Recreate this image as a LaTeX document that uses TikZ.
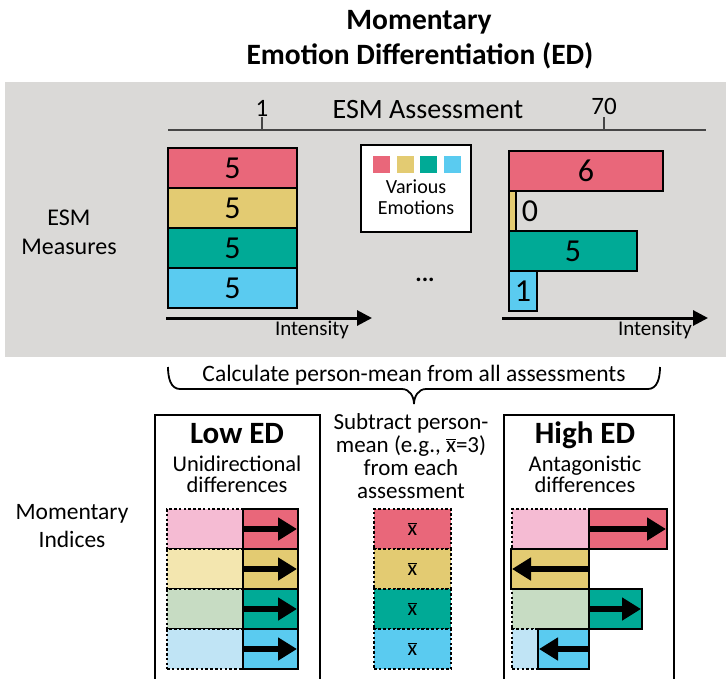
\documentclass[tikz,border=0pt]{standalone}
\usepackage{fontspec}
\setmainfont{Carlito}
\usetikzlibrary{arrows.meta}

\definecolor{panel}{RGB}{218,217,215}
\definecolor{axisgray}{RGB}{70,70,70}
\definecolor{emred}{RGB}{233,103,122}
\definecolor{emyel}{RGB}{227,203,114}
\definecolor{emteal}{RGB}{0,170,150}
\definecolor{emblue}{RGB}{90,203,240}
\definecolor{palered}{RGB}{245,187,211}
\definecolor{paleyel}{RGB}{243,230,175}
\definecolor{palegrn}{RGB}{199,220,195}
\definecolor{paleblu}{RGB}{192,228,245}

\newcommand\fsz[2]{\fontsize{#1}{#2}\selectfont}
\newcommand\xbar{\ensuremath{\overline{\hbox{x}}}}

\begin{document}
\begin{tikzpicture}[x=1pt,y=-1pt,
  every node/.style={inner sep=0pt, outer sep=0pt},
  txt/.style={anchor=base, align=center},
  bar/.style={draw=black, line width=2.6pt, minimum height=40pt, font=\fsz{32}{36}},
  ghost/.style={draw=black, line width=2.6pt, dash pattern=on 2.6pt off 2.2pt,
                minimum height=40pt, minimum width=77pt},
  swatch/.style={minimum width=17pt, minimum height=17pt},
  fatarrow/.style={-{Triangle[length=19pt,width=22pt]}, line width=6.5pt},
  intarrow/.style={-{Triangle[length=15pt,width=15pt]}, line width=3pt},
  frame/.style={draw=black, line width=2.6pt},
  tline/.style={draw=axisgray, line width=1.3pt}
]
\useasboundingbox (0,0) rectangle (726,678);
\clip (0,0) rectangle (726,678);

% heading
\node[txt, font=\fsz{29.5}{34}\bfseries] (title1) at (419,29) {Momentary};
\node[txt, font=\fsz{29.5}{34}\bfseries] (title2) at (420,64) {Emotion Differentiation (ED)};

% grey panel with the ESM measures
\fill[panel] (5,82) rectangle (726,357);

% assessment time line
\coordinate (tl0) at (168,130);
\coordinate (tl1) at (706,130);
\draw[tline] (tl0) -- (tl1);
\draw[tline] (262,130) -- (262,117);
\draw[tline] (604,130) -- (604,117);
\node[txt, font=\fsz{25}{29}] (t1) at (262,116) {1};
\node[txt, font=\fsz{25}{29}] (t70) at (604,114) {70};
\node[txt, font=\fsz{28}{32}] (esmlab) at (428,118) {ESM Assessment};

\node[txt, font=\fsz{24}{28}] (meas1) at (69,225) {ESM};
\node[txt, font=\fsz{24}{28}] (meas2) at (69,254) {Measures};

% first assessment: equal intensities
\node[bar, fill=emred,  minimum width=129pt] (a1) at (232.5,168) {5};
\node[bar, fill=emyel,  minimum width=129pt] (a2) at (232.5,208) {5};
\node[bar, fill=emteal, minimum width=129pt] (a3) at (232.5,248) {5};
\node[bar, fill=emblue, minimum width=129pt] (a4) at (232.5,288) {5};
\coordinate (ia0) at (166,318);
\coordinate (ia1) at (372,318);
\draw[intarrow] (ia0) -- (ia1);
\node[txt, font=\fsz{21}{24}] (ilab1) at (312,335) {Intensity};

% legend
\node[frame, fill=white, minimum width=110pt, minimum height=87pt] (legend) at (416,188.5) {};
\node[swatch, fill=emred]  (sw1) at (381.5,164.5) {};
\node[swatch, fill=emyel]  (sw2) at (405.5,164.5) {};
\node[swatch, fill=emteal] (sw3) at (428.5,164.5) {};
\node[swatch, fill=emblue] (sw4) at (452.5,164.5) {};
\node[txt, font=\fsz{20}{21}] (leg1) at (416,193) {Various};
\node[txt, font=\fsz{20}{21}] (leg2) at (416,214) {Emotions};

\node[font=\fsz{24}{26}\bfseries] (dots) at (425,280) {...};

% last assessment: differing intensities
\node[bar, fill=emred,  minimum width=154pt] (b1) at (586,171) {6};
\node[bar, fill=emyel,  minimum width=7pt]   (b2) at (512.5,211) {};
\node[font=\fsz{32}{36}] (b2v) at (530,211) {0};
\node[bar, fill=emteal, minimum width=128pt] (b3) at (573,251) {5};
\node[bar, fill=emblue, minimum width=28pt]  (b4) at (523,291) {1};
\coordinate (ib0) at (502,318);
\coordinate (ib1) at (708,318);
\draw[intarrow] (ib0) -- (ib1);
\node[txt, font=\fsz{21}{24}] (ilab2) at (655,335) {Intensity};

% person mean brace
\coordinate (brL) at (168,367);
\coordinate (brR) at (660,367);
\coordinate (brT) at (414,404);
\draw[line width=1.8pt]
  (brL) to[out=-90,in=180] (180,389) -- (402,389) to[out=0,in=90] (brT);
\draw[line width=1.8pt]
  (brR) to[out=-90,in=0] (648,389) -- (426,389) to[out=180,in=90] (brT);
\node[txt, font=\fsz{23.5}{26}] (calc) at (414,381) {Calculate person-mean from all assessments};

\node[txt, font=\fsz{23.5}{26}] (mi1) at (72,519) {Momentary};
\node[txt, font=\fsz{23.5}{26}] (mi2) at (72,547) {Indices};

% low ED panel
\draw[frame] (155,415) rectangle (320,700);
\node[txt, font=\fsz{31}{34}\bfseries] (low) at (237,443) {Low ED};
\node[txt, font=\fsz{22.5}{21}] (lowsub) at (237,492) {Unidirectional\\differences};

\node[ghost, fill=palered, minimum width=76pt] (lg1) at (205,529) {};
\node[ghost, fill=paleyel, minimum width=76pt] (lg2) at (205,569) {};
\node[ghost, fill=palegrn, minimum width=76pt] (lg3) at (205,609) {};
\node[ghost, fill=paleblu, minimum width=76pt] (lg4) at (205,649) {};
\node[bar, fill=emred,  minimum width=55pt] (ld1) at (270.5,529) {};
\node[bar, fill=emyel,  minimum width=55pt] (ld2) at (270.5,569) {};
\node[bar, fill=emteal, minimum width=55pt] (ld3) at (270.5,609) {};
\node[bar, fill=emblue, minimum width=55pt] (ld4) at (270.5,649) {};
\foreach \i in {1,...,4}{
  \draw[fatarrow] (ld\i.west) -- ([xshift=-1pt]ld\i.east);
}

% subtraction of the person mean
\node[txt, font=\fsz{23}{23}] (sub) at (411,498)
  {Subtract person-\\mean (e.g., \xbar=3)\\from each\\assessment};
\node[ghost, fill=emred]  (m1) at (412.5,529) {\fsz{22}{24}\xbar};
\node[ghost, fill=emyel]  (m2) at (412.5,569) {\fsz{22}{24}\xbar};
\node[ghost, fill=emteal] (m3) at (412.5,609) {\fsz{22}{24}\xbar};
\node[ghost, fill=emblue] (m4) at (412.5,649) {\fsz{22}{24}\xbar};

% high ED panel
\draw[frame] (504,415) rectangle (674,700);
\node[txt, font=\fsz{31}{34}\bfseries] (high) at (585,443) {High ED};
\node[txt, font=\fsz{22.5}{21}] (highsub) at (585,492) {Antagonistic\\differences};

\node[ghost, fill=palered] (hg1) at (550.5,529) {};
\node[ghost, fill=paleyel] (hg2) at (550.5,569) {};
\node[ghost, fill=palegrn] (hg3) at (550.5,609) {};
\node[ghost, fill=paleblu] (hg4) at (550.5,649) {};
\node[bar, fill=emred,  minimum width=78pt] (hd1) at (628,529) {};
\node[bar, fill=emyel,  minimum width=78pt] (hd2) at (550,569) {};
\node[bar, fill=emteal, minimum width=53pt] (hd3) at (615.5,609) {};
\node[bar, fill=emblue, minimum width=51pt] (hd4) at (563.5,649) {};
\draw[fatarrow] (hd1.west) -- ([xshift=-1pt]hd1.east);
\draw[fatarrow] (hd2.east) -- ([xshift=1pt]hd2.west);
\draw[fatarrow] (hd3.west) -- ([xshift=-1pt]hd3.east);
\draw[fatarrow] (hd4.east) -- ([xshift=1pt]hd4.west);
\end{tikzpicture}
\end{document}
